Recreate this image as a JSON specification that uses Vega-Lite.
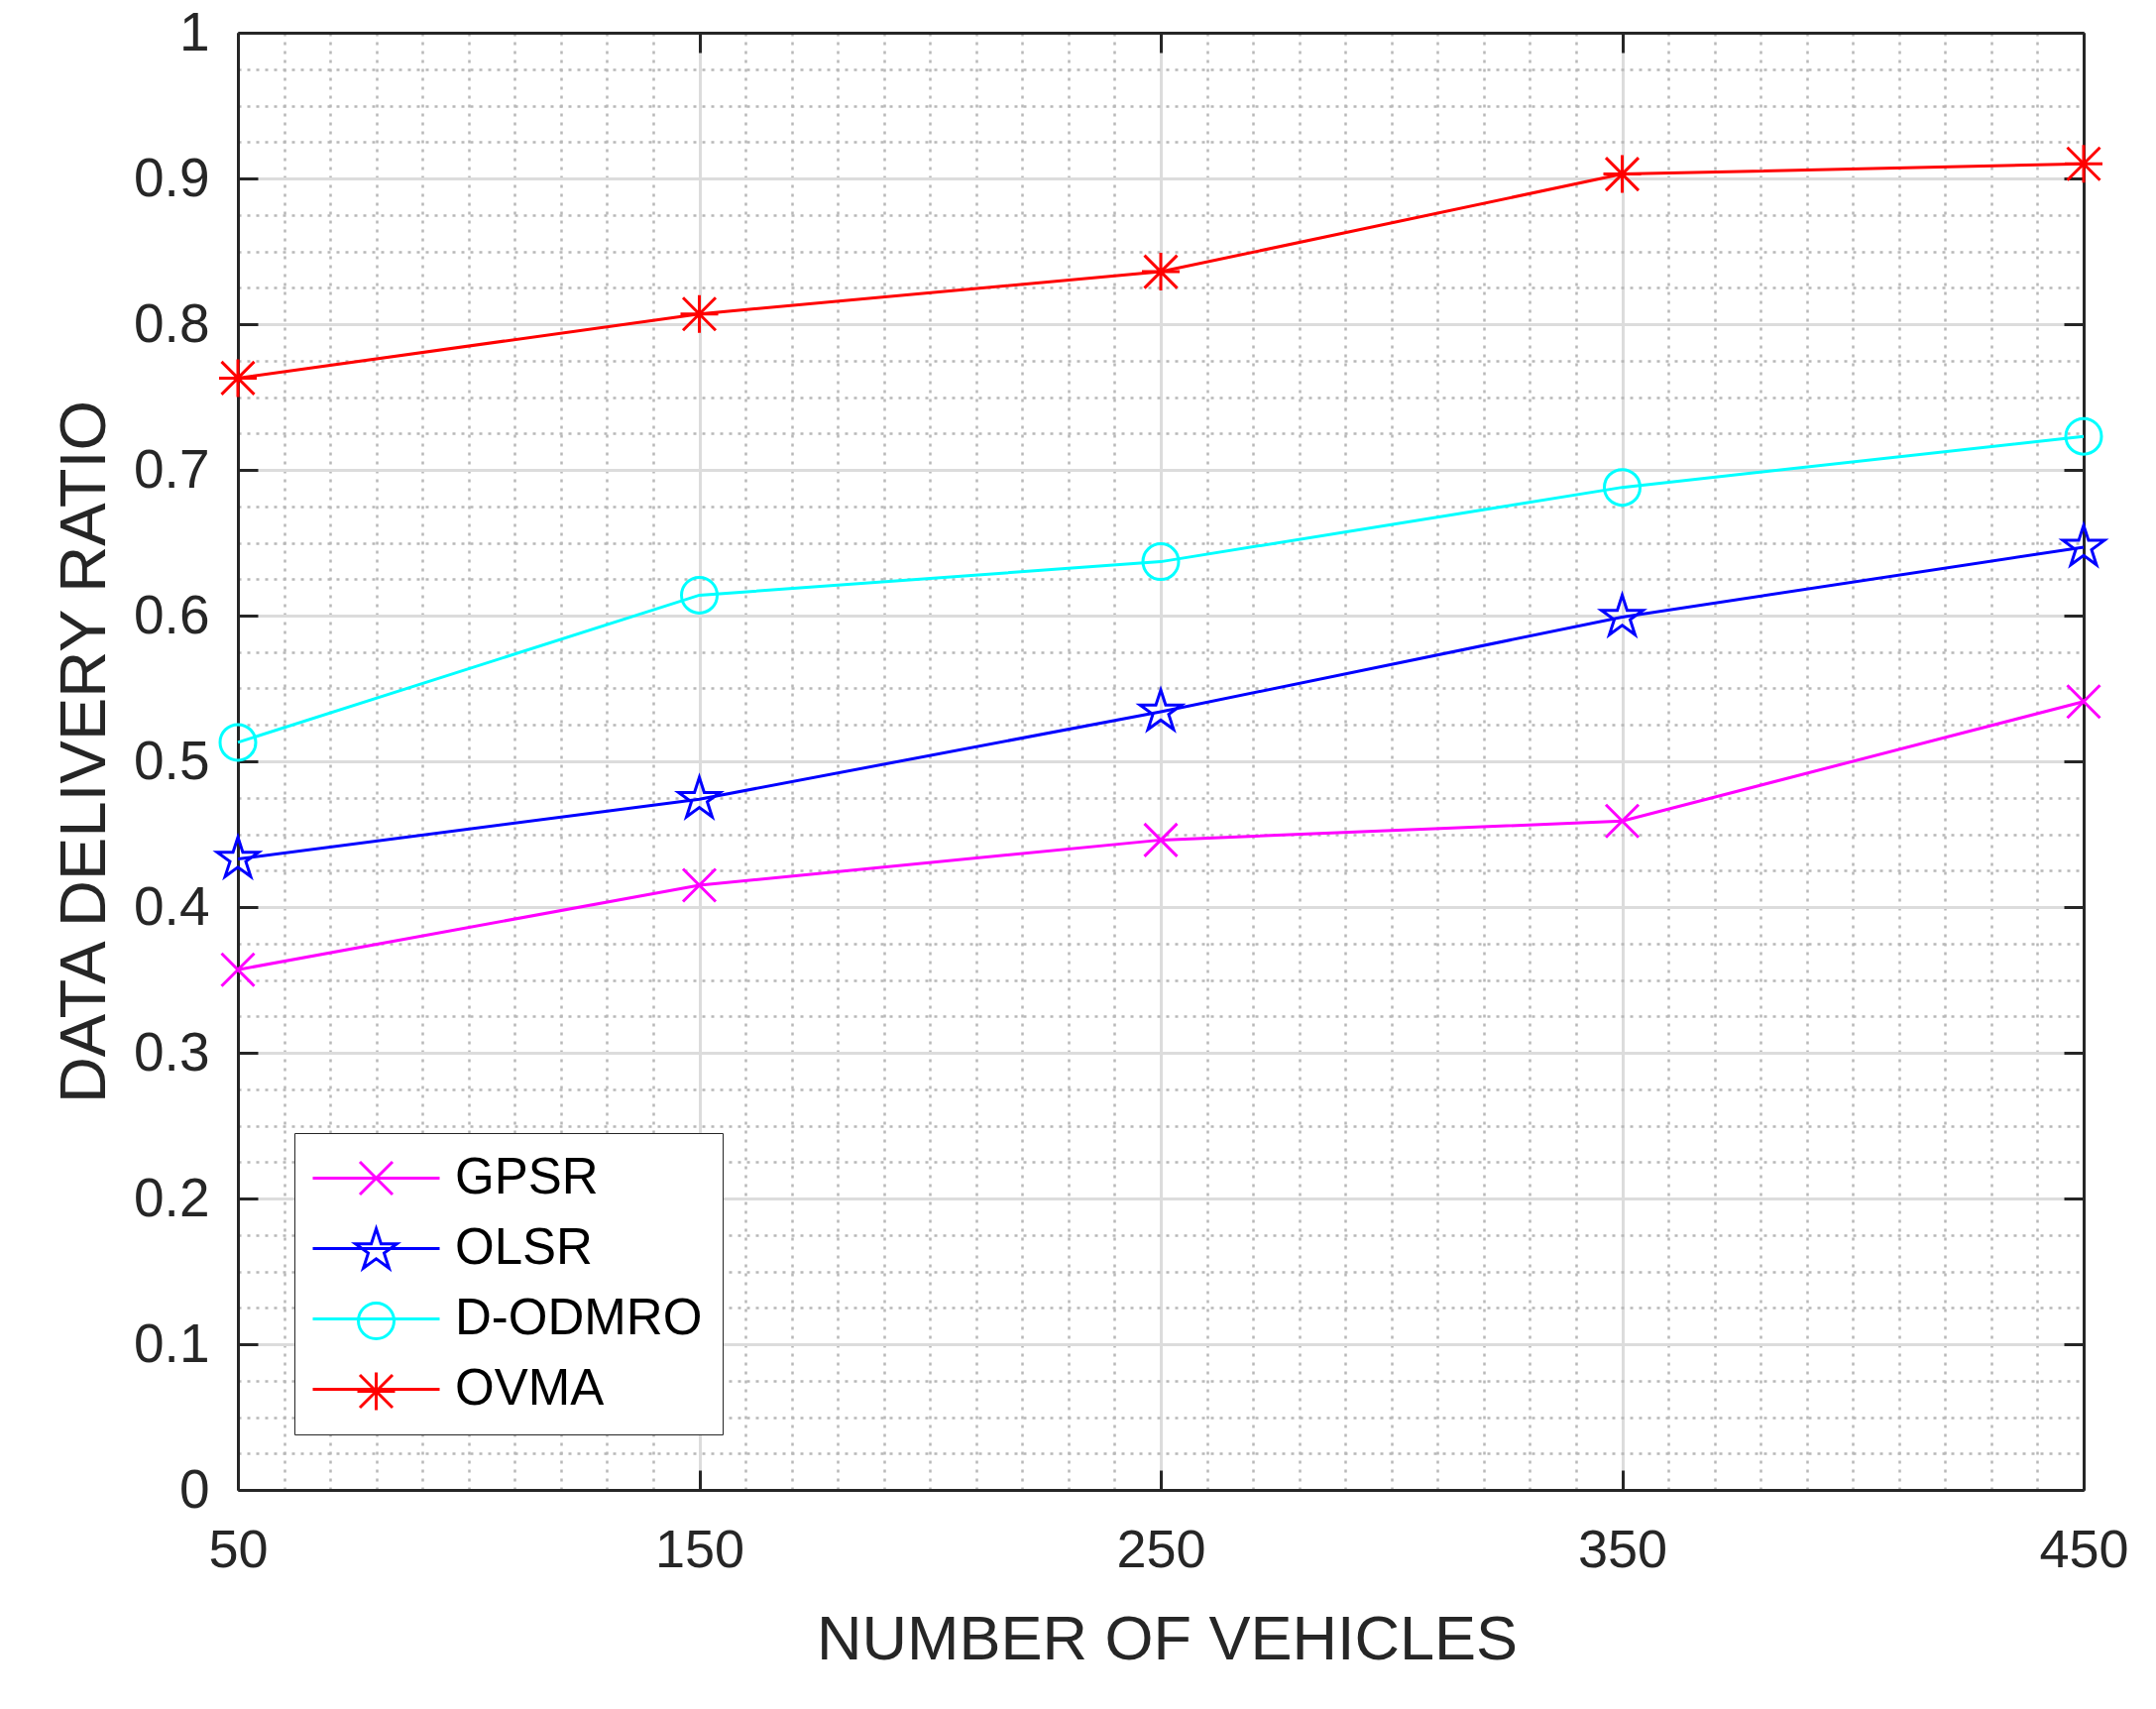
{
  "$schema": "https://vega.github.io/schema/vega-lite/v6.json",
  "description": "Data delivery ratio vs number of vehicles for four routing protocols.",
  "width": 1862,
  "height": 1470,
  "autosize": {"type": "none"},
  "padding": {"left": 240, "top": 33, "right": 73, "bottom": 221},
  "background": "white",
  "config": {
    "font": "Liberation Sans",
    "view": {"stroke": null},
    "axis": {"labelFont": "Liberation Sans", "titleFont": "Liberation Sans"}
  },
  "data": {
    "values": [
      {"n": 50, "series": "GPSR", "ratio": 0.357},
      {"n": 150, "series": "GPSR", "ratio": 0.415},
      {"n": 250, "series": "GPSR", "ratio": 0.446},
      {"n": 350, "series": "GPSR", "ratio": 0.459},
      {"n": 450, "series": "GPSR", "ratio": 0.541},
      {"n": 50, "series": "OLSR", "ratio": 0.433},
      {"n": 150, "series": "OLSR", "ratio": 0.474},
      {"n": 250, "series": "OLSR", "ratio": 0.534},
      {"n": 350, "series": "OLSR", "ratio": 0.599},
      {"n": 450, "series": "OLSR", "ratio": 0.647},
      {"n": 50, "series": "D-ODMRO", "ratio": 0.513},
      {"n": 150, "series": "D-ODMRO", "ratio": 0.614},
      {"n": 250, "series": "D-ODMRO", "ratio": 0.637},
      {"n": 350, "series": "D-ODMRO", "ratio": 0.688},
      {"n": 450, "series": "D-ODMRO", "ratio": 0.723},
      {"n": 50, "series": "OVMA", "ratio": 0.763},
      {"n": 150, "series": "OVMA", "ratio": 0.807},
      {"n": 250, "series": "OVMA", "ratio": 0.836},
      {"n": 350, "series": "OVMA", "ratio": 0.903},
      {"n": 450, "series": "OVMA", "ratio": 0.910}
    ]
  },
  "resolve": {"axis": {"x": "independent", "y": "independent"}},
  "layer": [
    {
      "mark": {"type": "point", "opacity": 0},
      "encoding": {
        "x": {
          "field": "n", "type": "quantitative",
          "scale": {"domain": [50, 450], "nice": false, "zero": false},
          "axis": {
            "orient": "bottom", "title": null, "labels": false, "ticks": false, "domain": false,
            "grid": true, "gridColor": "#b8b8b8", "gridWidth": 2.5, "gridDash": [3, 6],
            "values": [60, 70, 80, 90, 100, 110, 120, 130, 140, 160, 170, 180, 190, 200, 210, 220, 230, 240, 260, 270, 280, 290, 300, 310, 320, 330, 340, 360, 370, 380, 390, 400, 410, 420, 430, 440]
          }
        },
        "y": {
          "field": "ratio", "type": "quantitative",
          "scale": {"domain": [0, 1], "nice": false},
          "axis": {
            "orient": "left", "title": null, "labels": false, "ticks": false, "domain": false,
            "grid": true, "gridColor": "#b8b8b8", "gridWidth": 2.5, "gridDash": [3, 6],
            "values": [0.025, 0.05, 0.075, 0.125, 0.15, 0.175, 0.225, 0.25, 0.275, 0.325, 0.35, 0.375, 0.425, 0.45, 0.475, 0.525, 0.55, 0.575, 0.625, 0.65, 0.675, 0.725, 0.75, 0.775, 0.825, 0.85, 0.875, 0.925, 0.95, 0.975]
          }
        }
      }
    },
    {
      "mark": {"type": "point", "opacity": 0},
      "encoding": {
        "x": {
          "field": "n", "type": "quantitative",
          "axis": {
            "orient": "bottom", "title": null, "labels": false, "ticks": false, "domain": false,
            "grid": true, "gridColor": "#dcdcdc", "gridWidth": 3,
            "values": [150, 250, 350]
          }
        },
        "y": {
          "field": "ratio", "type": "quantitative",
          "axis": {
            "orient": "left", "title": null, "labels": false, "ticks": false, "domain": false,
            "grid": true, "gridColor": "#dcdcdc", "gridWidth": 3,
            "values": [0.1, 0.2, 0.3, 0.4, 0.5, 0.6, 0.7, 0.8, 0.9]
          }
        }
      }
    },
    {
      "mark": {"type": "line", "strokeWidth": 3},
      "encoding": {
        "x": {
          "field": "n", "type": "quantitative",
          "axis": {
            "orient": "bottom", "grid": false, "values": [50, 150, 250, 350, 450], "format": "d",
            "labelFontSize": 54, "labelColor": "#262626", "labelPadding": 54, "labelFlush": false,
            "ticks": true, "tickSize": -20, "tickWidth": 3, "tickColor": "#262626",
            "domain": true, "domainColor": "#262626", "domainWidth": 3,
            "title": "NUMBER OF VEHICLES", "titleFontSize": 63, "titleFontWeight": "normal", "titleColor": "#262626",
            "titleX": 937, "titleY": 170, "titleBaseline": "alphabetic", "titleAlign": "center"
          }
        },
        "y": {
          "field": "ratio", "type": "quantitative",
          "axis": {
            "orient": "left", "grid": false, "values": [0, 0.1, 0.2, 0.3, 0.4, 0.5, 0.6, 0.7, 0.8, 0.9, 1], "format": "~g",
            "labelFontSize": 55, "labelColor": "#262626", "labelPadding": 49, "labelFlush": false,
            "ticks": true, "tickSize": -20, "tickWidth": 3, "tickColor": "#262626",
            "domain": true, "domainColor": "#262626", "domainWidth": 3,
            "title": "DATA DELIVERY RATIO", "titleFontSize": 65, "titleFontWeight": "normal", "titleColor": "#262626",
            "titleAngle": -90, "titleX": -135, "titleY": 725, "titleBaseline": "alphabetic", "titleAlign": "center"
          }
        },
        "color": {
          "field": "series", "type": "nominal",
          "scale": {
            "domain": ["GPSR", "OLSR", "D-ODMRO", "OVMA"],
            "range": ["#ff00ff", "#0000ff", "#00ffff", "#ff0000"]
          },
          "legend": {
            "orient": "none", "legendX": 57, "legendY": 1110, "title": null,
            "symbolType": "M-3.2,0H3.2", "symbolSize": 1600, "symbolStrokeWidth": 3, "symbolOffset": 37,
            "labelFontSize": 51, "labelColor": "#000000", "labelOffset": 54, "labelLimit": 600,
            "padding": 20, "rowPadding": 19,
            "fillColor": "#ffffff", "strokeColor": "#262626"
          }
        }
      }
    },
    {
      "mark": {"type": "point", "filled": false, "strokeWidth": 3, "size": 1600, "opacity": 1},
      "encoding": {
        "x": {"field": "n", "type": "quantitative", "axis": null},
        "y": {"field": "ratio", "type": "quantitative", "axis": null},
        "stroke": {
          "field": "series", "type": "nominal", "sort": null,
          "scale": {"range": ["#ff00ff", "#0000ff", "#00ffff", "#ff0000"]},
          "legend": {
            "orient": "none", "legendX": 57, "legendY": 1110, "title": null,
            "symbolSize": 1600, "symbolStrokeWidth": 3, "symbolOffset": 37,
            "labelFontSize": 51, "labelExpr": "''", "labelOffset": 54,
            "padding": 20, "rowPadding": 19
          }
        },
        "shape": {
          "field": "series", "type": "nominal", "sort": null,
          "scale": {
            "range": [
              "M-0.825,-0.825L0.825,0.825M-0.825,0.825L0.825,-0.825",
              "M0,-1.1L0.247,-0.34L1.046,-0.34L0.4,0.13L0.647,0.89L0,0.42L-0.647,0.89L-0.4,0.13L-1.046,-0.34L-0.247,-0.34Z",
              "M0.9,0A0.9,0.9,0,1,1,-0.9,0A0.9,0.9,0,1,1,0.9,0Z",
              "M0,-0.95L0,0.95M-0.95,0L0.95,0M-0.825,-0.825L0.825,0.825M-0.825,0.825L0.825,-0.825"
            ]
          },
          "legend": {
            "orient": "none", "legendX": 57, "legendY": 1110, "title": null,
            "symbolSize": 1600, "symbolStrokeWidth": 3, "symbolOffset": 37,
            "labelFontSize": 51, "labelExpr": "''", "labelOffset": 54,
            "padding": 20, "rowPadding": 19
          }
        }
      }
    },
    {
      "mark": {"type": "point", "opacity": 0},
      "encoding": {
        "x": {
          "field": "n", "type": "quantitative",
          "axis": {
            "orient": "top", "title": null, "labels": false, "grid": false,
            "values": [50, 150, 250, 350, 450],
            "ticks": true, "tickSize": -20, "tickWidth": 3, "tickColor": "#262626",
            "domain": true, "domainColor": "#262626", "domainWidth": 3
          }
        },
        "y": {
          "field": "ratio", "type": "quantitative",
          "axis": {
            "orient": "right", "title": null, "labels": false, "grid": false,
            "values": [0, 0.1, 0.2, 0.3, 0.4, 0.5, 0.6, 0.7, 0.8, 0.9, 1],
            "ticks": true, "tickSize": -20, "tickWidth": 3, "tickColor": "#262626",
            "domain": true, "domainColor": "#262626", "domainWidth": 3
          }
        }
      }
    }
  ]
}
